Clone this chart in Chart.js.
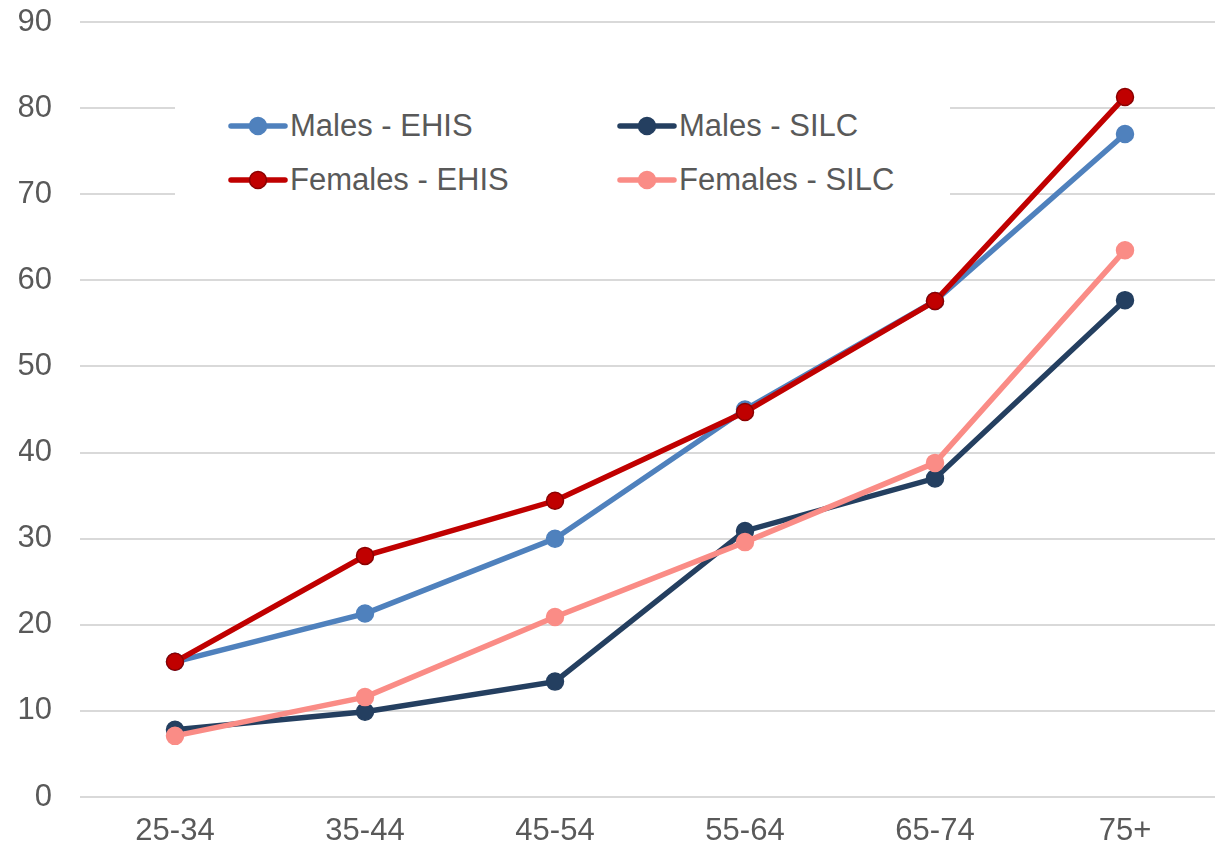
<!DOCTYPE html>
<html>
<head>
<meta charset="utf-8">
<script src="https://cdn.jsdelivr.net/npm/chart.js@4/dist/chart.umd.min.js"></script>
<style>
  html, body { margin: 0; padding: 0; background: #fff; overflow: hidden; }
  #wrap { position: relative; width: 1220px; height: 849px; }
  #legend {
    position: absolute; left: 175px; top: 86px; width: 775px; height: 128px;
    background: #fff; font-family: "Liberation Sans", Arial, sans-serif;
    font-size: 31px; color: #595959;
  }
  .item { position: absolute; display: flex; align-items: center; height: 40px; }
  .item svg { margin-right: 2px; }
</style>
</head>
<body>
<div id="wrap">
  <canvas id="chart" width="1220" height="849"></canvas>
  <div id="legend"></div>
</div>
<script>
const ageGroups = ["25-34", "35-44", "45-54", "55-64", "65-74", "75+"];
const yTicks = [0, 10, 20, 30, 40, 50, 60, 70, 80, 90];

const malesEhis = [15.7, 21.3, 30.0, 45.0, 57.6, 77.0];
const malesSilc = [7.8, 9.9, 13.4, 30.9, 37.0, 57.7];
const femalesEhis = [15.7, 28.0, 34.4, 44.7, 57.6, 81.3];
const femalesSilc = [7.1, 11.6, 20.9, 29.6, 38.8, 63.5];

const series = [
  { label: "Males - EHIS", data: malesEhis, color: "#4F81BD", border: "#4F81BD", order: 3 },
  { label: "Males - SILC", data: malesSilc, color: "#243F60", border: "#243F60", order: 2 },
  { label: "Females - EHIS", data: femalesEhis, color: "#C00000", border: "#8B0000", order: 1 },
  { label: "Females - SILC", data: femalesSilc, color: "#FA8C86", border: "#FA8C86", order: 0 }
];

const tickFont = { family: "Liberation Sans", size: 31 };

const ctx = document.getElementById('chart').getContext('2d');

const chart = new Chart(ctx, {
  type: "line",
  data: {
    labels: ageGroups,
    datasets: series.map((s) => ({
      label: s.label,
      data: s.data,
      order: s.order,
      borderColor: s.color,
      backgroundColor: s.color,
      borderWidth: 5.5,
      pointRadius: 8.5,
      pointHoverRadius: 8.5,
      pointBackgroundColor: s.color,
      pointBorderColor: s.border,
      pointBorderWidth: 1.5,
      tension: 0
    }))
  },
  options: {
    responsive: false,
    animation: false,
    layout: { autoPadding: false, padding: { left: 19, top: 0, right: 0, bottom: 0 } },
    plugins: { legend: { display: false }, tooltip: { enabled: false } },
    scales: {
      x: {
        offset: true,
        grid: { display: false, drawTicks: false },
        border: { display: false },
        ticks: { color: "#595959", padding: 16, font: tickFont },
        afterFit: (axis) => { axis.height = 52; }
      },
      y: {
        min: 0,
        max: 90,
        afterBuildTicks: (axis) => { axis.ticks = yTicks.map((v) => ({ value: v })); },
        grid: { color: "#D9D9D9", lineWidth: 2, drawTicks: false },
        border: { display: false },
        ticks: { color: "#595959", padding: 28, font: tickFont },
        afterFit: (axis) => {
          axis.width = 61;
          axis.paddingTop = 22;
          axis.paddingBottom = 0;
        }
      }
    }
  }
});

// legend sits inside the plot, two columns
const legend = document.getElementById('legend');
const spots = [[53, 20], [442, 20], [53, 74], [442, 74]];
series.forEach((s, i) => {
  const el = document.createElement('div');
  el.className = 'item';
  el.style.left = spots[i][0] + 'px';
  el.style.top = spots[i][1] + 'px';
  el.innerHTML =
    '<svg width="60" height="20"><line x1="3" y1="10" x2="57" y2="10" stroke="' + s.color +
    '" stroke-width="5.5" stroke-linecap="round"/><circle cx="30" cy="10" r="8.5" fill="' + s.color +
    '" stroke="' + s.border + '" stroke-width="1.5"/></svg><span>' + s.label + '</span>';
  legend.appendChild(el);
});
</script>
</body>
</html>
